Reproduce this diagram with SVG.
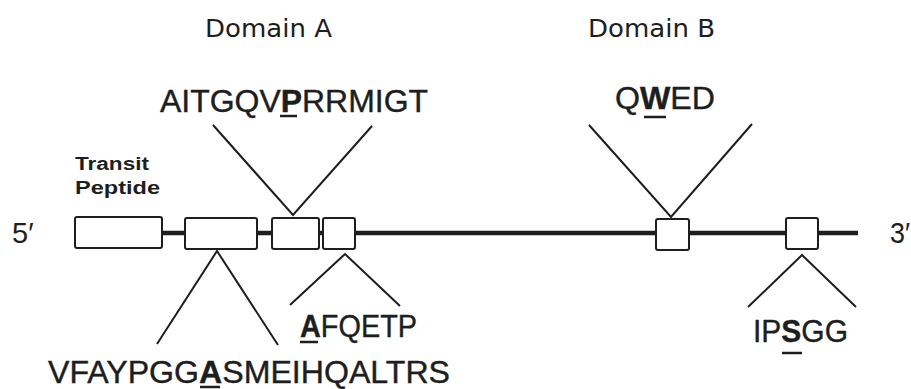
<svg xmlns="http://www.w3.org/2000/svg" width="911" height="389" viewBox="0 0 911 389">
  <style>
    .seq { font-family: "Liberation Sans", Arial, sans-serif; font-size: 31px; fill: #1e1e1e; stroke: #1e1e1e; stroke-width: 0.4; }
    .dom { font-family: "DejaVu Sans", "Liberation Sans", sans-serif; font-size: 25px; fill: #1e1e1e; }
    .lbl { font-family: "Liberation Sans", Arial, sans-serif; font-size: 18px; font-weight: bold; fill: #1e1e1e; }
    .end { font-family: "Liberation Sans", Arial, sans-serif; font-size: 29px; fill: #1e1e1e; }
    .b { font-weight: bold; }
    .exon { fill: #ffffff; stroke: #1e1e1e; stroke-width: 2; }
    .gene { stroke: #1e1e1e; stroke-width: 4.5; fill: none; }
    .lead { stroke: #1e1e1e; stroke-width: 2; fill: none; }
    .ul { stroke: #1e1e1e; stroke-width: 2.5; }
  </style>

  <!-- headings -->
  <text class="dom" x="205" y="37" textLength="127" lengthAdjust="spacingAndGlyphs">Domain A</text>
  <text class="dom" x="588" y="37" textLength="127" lengthAdjust="spacingAndGlyphs">Domain B</text>

  <!-- connectors: gene backbone and leader lines to sequences -->
  <g id="connectors">
    <line class="gene" x1="162" y1="233" x2="858" y2="233"/>
    <polyline class="lead" points="213,125 293,215 372,126"/>
    <polyline class="lead" points="589,125 671,217 752,124"/>
    <polyline class="lead" points="157,344 217,251 278,345"/>
    <polyline class="lead" points="290,305 345,254 400,306"/>
    <polyline class="lead" points="748,307 802,255 856,307"/>
  </g>

  <!-- exons -->
  <g id="exon1"><rect class="exon" x="75" y="217" width="87" height="31" rx="2"/></g>
  <g id="exon2"><rect class="exon" x="185" y="218" width="72" height="31" rx="2"/></g>
  <g id="exon3"><rect class="exon" x="272" y="218" width="47" height="31" rx="2"/></g>
  <g id="exon4"><rect class="exon" x="323" y="218" width="32" height="31" rx="2"/></g>
  <g id="exon5"><rect class="exon" x="656" y="219" width="33" height="31" rx="2"/></g>
  <g id="exon6"><rect class="exon" x="786" y="218" width="32" height="31" rx="2"/></g>

  <!-- labels -->
  <g id="transit-peptide">
    <text class="lbl" x="75" y="170" textLength="74" lengthAdjust="spacingAndGlyphs">Transit</text>
    <text class="lbl" x="75" y="194" textLength="85" lengthAdjust="spacingAndGlyphs">Peptide</text>
  </g>
  <g id="five-prime"><text class="end" x="12" y="243">5′</text></g>
  <g id="three-prime"><text class="end" x="890" y="243" textLength="20" lengthAdjust="spacingAndGlyphs">3′</text></g>

  <!-- sequences -->
  <g id="seq-domainA">
    <text class="seq" x="160" y="112" textLength="268" lengthAdjust="spacingAndGlyphs">AITGQV<tspan class="b">P</tspan>RRMIGT</text>
    <line class="ul" x1="280" y1="116" x2="297" y2="116"/>
  </g>
  <g id="seq-domainB">
    <text class="seq" x="615" y="109" textLength="100" lengthAdjust="spacingAndGlyphs">Q<tspan class="b">W</tspan>ED</text>
    <line class="ul" x1="644" y1="117" x2="666" y2="117"/>
  </g>
  <g id="seq-exon2">
    <text class="seq" x="48" y="383" textLength="402" lengthAdjust="spacingAndGlyphs">VFAYPGG<tspan class="b">A</tspan>SMEIHQALTRS</text>
    <line class="ul" x1="200" y1="387" x2="220" y2="387"/>
  </g>
  <g id="seq-exon4">
    <text class="seq" x="300" y="337" textLength="117" lengthAdjust="spacingAndGlyphs"><tspan class="b">A</tspan>FQETP</text>
    <line class="ul" x1="300" y1="342" x2="318" y2="342"/>
  </g>
  <g id="seq-exon6">
    <text class="seq" x="753" y="342" textLength="95" lengthAdjust="spacingAndGlyphs">IP<tspan class="b">S</tspan>GG</text>
    <line class="ul" x1="782" y1="353" x2="802" y2="353"/>
  </g>
</svg>
